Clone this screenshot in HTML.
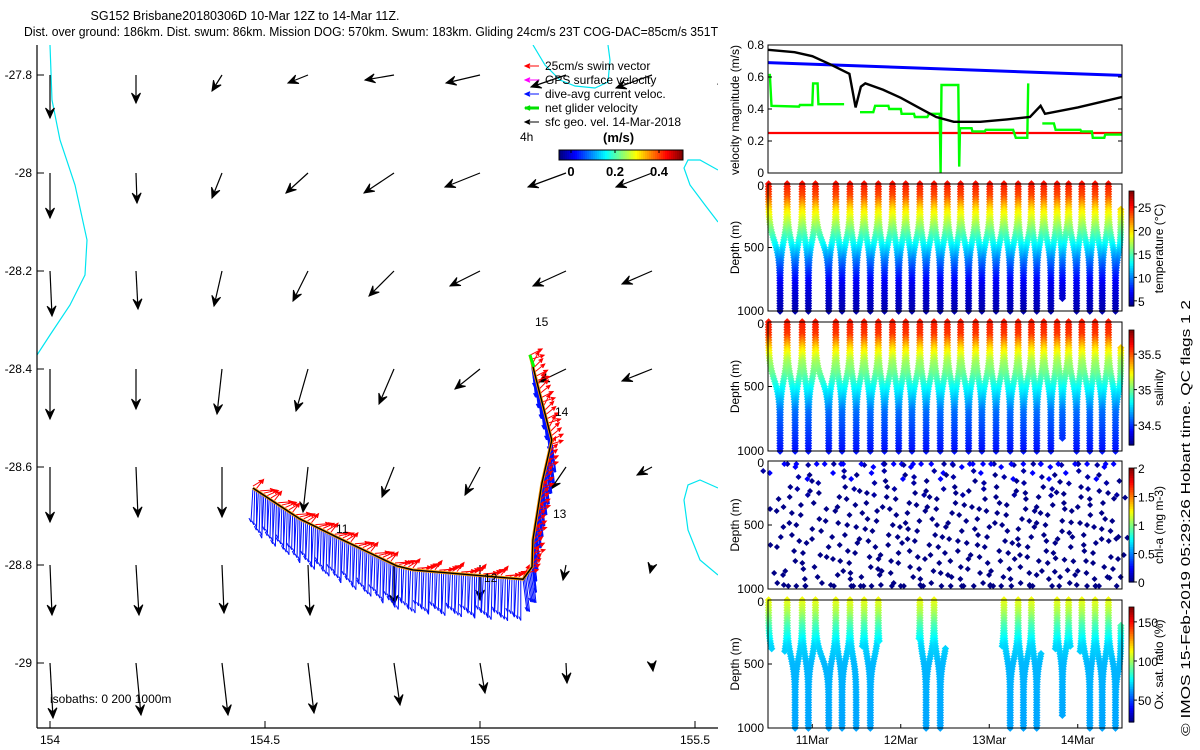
<!DOCTYPE html>
<html><head><meta charset="utf-8"><style>
html,body{margin:0;padding:0;background:#fff}
svg{display:block;font-family:"Liberation Sans",sans-serif}
</style></head><body>
<svg id="fig" width="1200" height="750" viewBox="0 0 1200 750" xmlns="http://www.w3.org/2000/svg">
<rect width="1200" height="750" fill="#fff"/>
<text x="245" y="20" font-size="12.5" text-anchor="middle">SG152 Brisbane20180306D 10-Mar 12Z to 14-Mar 11Z.</text>
<text x="24" y="36" font-size="12.5" textLength="694" lengthAdjust="spacingAndGlyphs">Dist. over ground: 186km. Dist. swum: 86km. Mission DOG: 570km. Swum: 183km. Gliding 24cm/s 23T COG-DAC=85cm/s 351T</text>
<g id="map"></g>
<g id="right"></g>
</svg>
<script>
// ---------- MAP DATA ----------
const gridLons=[154,154.2,154.4,154.6,154.8,155,155.2,155.4,155.6];
const gridLats=[-27.8,-28,-28.2,-28.4,-28.6,-28.8,-29];
// surface geostrophic velocity u,v (m/s) per row (lat) per column (lon)
const geoU=[
[0,0,-0.10,-0.20,-0.29,-0.34,-0.35,-0.36,-0.20],
[0,0.01,-0.10,-0.22,-0.30,-0.35,-0.38,-0.36,-0.18],
[0.02,0.02,-0.08,-0.15,-0.25,-0.30,-0.33,-0.30,-0.18],
[0,0,-0.05,-0.12,-0.15,-0.25,-0.27,-0.30,-0.18],
[0,0.02,0,-0.05,-0.12,-0.15,-0.15,-0.15,-0.10],
[0.02,0.03,0.02,0.02,0,0,-0.03,-0.02,0],
[0.03,0.05,0.06,0.06,0.06,0.05,0.01,0.01,0]];
const geoV=[
[-0.43,-0.28,-0.16,-0.08,-0.05,-0.08,-0.12,-0.13,-0.09],
[-0.45,-0.30,-0.25,-0.20,-0.20,-0.14,-0.14,-0.14,-0.08],
[-0.45,-0.38,-0.35,-0.30,-0.25,-0.15,-0.15,-0.13,-0.08],
[-0.50,-0.40,-0.45,-0.42,-0.35,-0.20,-0.13,-0.12,-0.08],
[-0.55,-0.50,-0.50,-0.45,-0.30,-0.28,-0.22,-0.08,-0.05],
[-0.50,-0.50,-0.48,-0.50,-0.40,-0.35,-0.15,-0.08,0],
[-0.55,-0.52,-0.52,-0.50,-0.42,-0.30,-0.20,-0.08,0]];
const trackLon=[154.472,154.581,154.667,154.807,154.844,155.100,155.121,155.123,155.144,155.167,155.116];
const trackLat=[-28.643,-28.706,-28.743,-28.802,-28.810,-28.829,-28.804,-28.749,-28.633,-28.545,-28.371];

// ---------- TIME SERIES DATA ----------
const blackT=[10.5,10.8,11.0,11.2,11.42,11.49,11.55,11.6,11.8,12.0,12.2,12.4,12.6,12.9,13.2,13.46,13.58,13.63,14.0,14.5];
const blackV=[0.77,0.755,0.73,0.68,0.62,0.41,0.54,0.56,0.52,0.47,0.41,0.35,0.32,0.32,0.335,0.35,0.42,0.37,0.41,0.475];
const blueT=[10.5,14.5];
const blueV=[0.69,0.61];
const redT=[10.5,14.5];
const redV=[0.25,0.25];
const greenT=[10.52,10.54,10.85,10.86,11.0,11.01,11.06,11.07,11.36,null,11.54,11.69,11.71,11.86,11.87,12.0,12.01,12.15,12.16,12.3,12.32,12.44,12.45,12.46,12.5,12.65,12.66,12.67,12.8,12.81,12.95,12.96,13.27,13.3,13.42,13.43,13.44,null,13.6,13.73,13.75,14.03,14.04,14.16,14.17,14.3,14.31,14.5];
const greenV=[0.62,0.42,0.415,0.425,0.425,0.56,0.56,0.43,0.43,null,0.38,0.38,0.42,0.42,0.40,0.40,0.37,0.37,0.35,0.35,0.37,0.37,0,0.55,0.55,0.55,0.04,0.28,0.28,0.26,0.26,0.27,0.27,0.22,0.22,0.22,0.56,null,0.31,0.31,0.27,0.27,0.26,0.26,0.22,0.22,0.24,0.24];
// dive zigzag turning points (time in days, depth m)
const turnT=[10.52,10.65,10.73,10.82,10.90,10.97,11.05,11.20,11.28,11.35,11.44,11.51,11.60,11.67,11.76,11.83,11.92,11.99,12.07,12.14,12.23,12.30,12.39,12.46,12.54,12.62,12.69,12.78,12.86,12.93,13.02,13.09,13.18,13.25,13.34,13.40,13.49,13.55,13.63,13.71,13.78,13.84,13.91,14.00,14.06,14.15,14.21,14.29,14.36,14.44,14.50];
const turnD=[0,1000,0,1000,0,1000,0,1000,0,1000,0,1000,0,1000,0,1000,0,1000,0,1000,0,1000,0,1000,0,1000,0,1000,0,1000,0,1000,0,1000,0,1000,0,1000,0,1000,0,900,0,1000,0,1000,0,1000,0,1000,200];
const tempDepth=[0,100,200,300,400,500,600,700,800,1000];
const tempVal=[25,23.5,20,17.5,15,12.5,10,8,6.5,5];
const salDepth=[0,100,200,300,400,500,700,1000];
const salVal=[35.6,35.55,35.3,35.1,35.0,34.85,34.6,34.45];
const chlDepth=[0,100,200,1000];
const chlVal=[0.25,0.08,0.02,0.01];
const oxyDepth=[0,100,200,350,500,1000];
const oxyVal=[112,102,88,72,67,64];
const oxyStart=[10.48,10.70,11.58,12.22,13.16,13.76,14.04];
const oxyEnd=[10.56,11.51,11.77,12.52,13.60,13.93,14.50];
const dayTicks=[11,12,13,14];
const dayTickLabels=["11Mar","12Mar","13Mar","14Mar"];

// ---------- helpers ----------
const NS="http://www.w3.org/2000/svg";
function el(tag,attrs,parent){const e=document.createElementNS(NS,tag);for(const k in attrs)e.setAttribute(k,attrs[k]);parent.appendChild(e);return e;}
function txt(s,attrs,parent){const e=el("text",attrs,parent);e.textContent=s;return e;}
function jet(v){v=Math.max(0,Math.min(1,v));const c=x=>Math.round(255*Math.max(0,Math.min(1,1.5-Math.abs(x))));return `rgb(${c(4*v-3)},${c(4*v-2)},${c(4*v-1)})`;}
function interp(xs,ys,x){if(x<=xs[0])return ys[0];for(let i=1;i<xs.length;i++)if(x<=xs[i])return ys[i-1]+(ys[i]-ys[i-1])*(x-xs[i-1])/(xs[i]-xs[i-1]);return ys[ys.length-1];}
function sig(g){const k=7,c=0.45;return (Math.tanh((g-c)*k)-Math.tanh(-c*k))/(Math.tanh((1-c)*k)-Math.tanh(-c*k));}

// ---------- MAP ----------
const map=document.getElementById("map");
const lonX=lon=>50+(lon-154)*430;
const latY=lat=>75+(-27.8-lat)*490;
const clip=el("clipPath",{id:"mapclip"},map);el("rect",{x:37,y:45,width:681,height:683},clip);
const mg=el("g",{"clip-path":"url(#mapclip)"},map);
const isos=[[[50,45],[52,100],[60,140],[75,185],[87,240],[85,275],[70,305],[50,335],[37,355]],
 [[533,45],[545,65],[560,80],[575,86],[595,88],[608,82],[610,60],[608,45]],
 [[718,170],[700,160],[688,160],[684,168],[690,185],[705,205],[718,222]],
 [[718,488],[700,480],[688,485],[684,500],[688,530],[700,560],[718,575]]];
isos.forEach(p=>{const l=el("polyline",{points:p.map(q=>q.join(",")).join(" "),fill:"none",stroke:"#00e5f0","stroke-width":1.2},mg);

});
function arrow(g,x,y,dx,dy,col,w,head){const L=Math.hypot(dx,dy);if(L<0.5)return;const ux=dx/L,uy=dy/L;const x2=x+dx,y2=y+dy;
 el("line",{x1:x,y1:y,x2:x2,y2:y2,stroke:col,"stroke-width":w},g);
 const hl=head,hw=head*0.45;
 el("polygon",{points:`${x2},${y2} ${x2-ux*hl-uy*hw},${y2-uy*hl+ux*hw} ${x2-ux*hl*0.6},${y2-uy*hl*0.6} ${x2-ux*hl+uy*hw},${y2-uy*hl-ux*hw}`,fill:col,stroke:col,"stroke-width":1},g);}
const ag=el("g",{},mg);


gridLats.forEach((la,r)=>gridLons.forEach((lo,c)=>{arrow(ag,lonX(lo),latY(la),geoU[r][c]*100,-geoV[r][c]*100,"#000",1.2,10);}));
const tp=trackLon.map((lo,i)=>[lonX(lo),latY(trackLat[i])]);
const samples=[];
for(let i=1;i<tp.length;i++){const [x0,y0]=tp[i-1],[x1,y1]=tp[i];const n=Math.max(1,Math.round(Math.hypot(x1-x0,y1-y0)/2.2));for(let k=0;k<n;k++){const f=k/n;samples.push([x0+(x1-x0)*f,y0+(y1-y0)*f,i]);}}
const bg=el("g",{},mg);


samples.forEach((s,j)=>{const vert=s[2]>=6;const len=vert?28+(j%5)*2:34+(j%7)*1.5;const dx=vert?4:-2+(j%3);
 el("line",{x1:s[0],y1:s[1],x2:s[0]+dx,y2:s[1]+len,stroke:"#0010ff","stroke-width":1},bg);
 el("line",{x1:s[0]+dx,y1:s[1]+len,x2:s[0]+dx-2,y2:s[1]+len-4,stroke:"#0010ff","stroke-width":1},bg);});
const rg=el("g",{},mg);


samples.forEach((s,j)=>{if(j%2)return;const vert=s[2]>=6;const pat=[[10,-6],[13,-3],[7,-9],[11,-5],[14,-1]][j%5];const d=vert?[pat[0]*0.9,pat[1]-3]:pat;
 arrow(rg,s[0],s[1]-2,d[0],d[1],"#ff0000",1,4);});
const tl1=el("polyline",{points:tp.map(p=>p.join(",")).join(" "),fill:"none",stroke:"#ff9900","stroke-width":3},mg);


const tl2=el("polyline",{points:tp.map(p=>p.join(",")).join(" "),fill:"none",stroke:"#000","stroke-width":1.4},mg);


const gl=el("polyline",{points:`${tp[10][0]},${tp[10][1]} ${tp[10][0]+4},${tp[10][1]+12}`,fill:"none",stroke:"#00ff00","stroke-width":3},mg);


[["11",336,533],["12",484,582],["13",553,518],["14",555,416],["15",535,326]].forEach(l=>{const t=txt(l[0],{x:l[1],y:l[2],"font-size":12},map);

});
el("line",{x1:37,y1:45,x2:37,y2:728,stroke:"#000","stroke-width":1.2},map);
el("line",{x1:37,y1:728,x2:718,y2:728,stroke:"#000","stroke-width":1.2},map);
const mapXT=[154,154.5,155,155.5];
mapXT.forEach(v=>{const x=lonX(v);el("line",{x1:x,y1:728,x2:x,y2:721,stroke:"#000"},map);const t=txt(String(v),{x:x,y:744,"font-size":12,"text-anchor":"middle"},map);

});
gridLats.forEach(v=>{const y=latY(v);el("line",{x1:37,y1:y,x2:44,y2:y,stroke:"#000"},map);const t=txt(String(v),{x:32,y:y+4,"font-size":12,"text-anchor":"end"},map);

});
const iso=txt("isobaths: 0   200  1000m",{x:50,y:703,"font-size":12,"xml:space":"preserve"},map);


const lg=el("g",{},map);


[["25cm/s swim vector","#ff0000",1],["GPS surface velocity","#ff00ff",1],["dive-avg current veloc.","#0010ff",1],["net glider velocity","#00e000",3],["sfc geo. vel. 14-Mar-2018","#000",1]].forEach((e,i)=>{const y=66+i*14;
 const g=el("g",{},lg);
 
 
 arrow(g,539,y,-14,0,e[1],e[2],5);txt(e[0],{x:545,y:y+4,"font-size":12},g);});
txt("4h",{x:520,y:141,"font-size":12},lg);
txt("(m/s)",{x:603,y:142,"font-size":13,"font-weight":"bold"},lg);
const cb=el("g",{},lg);


for(let i=0;i<62;i++)el("rect",{x:559+i*2,y:150,width:2.2,height:10,fill:jet(i/61)},cb);
el("rect",{x:559,y:150,width:124,height:10,fill:"none",stroke:"#000"},cb);
[["0",571],["0.2",615],["0.4",659]].forEach(l=>{el("line",{x1:l[1],y1:150,x2:l[1],y2:153,stroke:"#000"},cb);txt(l[0],{x:l[1],y:176,"font-size":13,"font-weight":"bold","text-anchor":"middle"},cb);});

// ---------- RIGHT PANELS ----------
const R=document.getElementById("right");
const L0=768,R0=1122;
const tX=t=>L0+(t-10.5)*88.5;
function frame(y0,y1,name){const r=el("rect",{x:L0,y:y0,width:R0-L0,height:y1-y0,fill:"none",stroke:"#000","stroke-width":1},R);

}
function vlabel(s,x,y,name,fs,len){const a={x:x,y:y,"font-size":fs||12,"text-anchor":"middle",transform:`rotate(-90 ${x} ${y})`};if(len){a.textLength=len;a.lengthAdjust="spacingAndGlyphs";}
const t=txt(s,a,R);

}
const vy=v=>173-v*160;
const vclip=el("clipPath",{id:"vclip"},R);el("rect",{x:L0,y:45,width:R0-L0,height:129},vclip);
const vg=el("g",{"clip-path":"url(#vclip)"},R);


function line(ts,vs,col,w,name){let d="",pen=false;ts.forEach((t,i)=>{if(t===null){pen=false;return;}d+=(pen?"L":"M")+tX(t).toFixed(1)+","+vy(vs[i]).toFixed(1);pen=true;});
 const p=el("path",{d:d,fill:"none",stroke:col,"stroke-width":w},vg);
 
 }
line(redT,redV,"#ff0000",2.2,"swim-speed-line");
line(blueT,blueV,"#0000ff",3,"current-speed-line");
line(greenT,greenV,"#00ff00",2.4,"glider-speed-line");
line(blackT,blackV,"#000",2.4,"surface-speed-line");
frame(45,173,"velocity-axes");
[0,0.2,0.4,0.6,0.8].forEach(v=>{const y=vy(v);el("line",{x1:L0,y1:y,x2:L0+4,y2:y,stroke:"#000"},R);el("line",{x1:R0,y1:y,x2:R0-4,y2:y,stroke:"#000"},R);
 const t=txt(String(v),{x:764,y:y+4,"font-size":12,"text-anchor":"end"},R);
 
 });
vlabel("velocity magnitude (m/s)",739,110,"velocity-axis-title");
const panels=[
 {y0:184,y1:311,name:"temperature",dep:tempDepth,val:tempVal,vmin:3.9,vmax:28.4,cb0:191,cb1:306,ticks:[5,10,15,20,25],lab:"temperature (°C)"},
 {y0:322,y1:451,name:"salinity",dep:salDepth,val:salVal,vmin:34.22,vmax:35.84,cb0:330,cb1:445,ticks:[34.5,35,35.5],lab:"salinity"},
 {y0:461,y1:589,name:"chlorophyll",dep:chlDepth,val:chlVal,vmin:0,vmax:2,cb0:468,cb1:582,ticks:[0,0.5,1,1.5,2],lab:"chl-a (mg m-3)",sparse:true},
 {y0:600,y1:728,name:"oxygen",dep:oxyDepth,val:oxyVal,vmin:22,vmax:169,cb0:607,cb1:722,ticks:[50,100,150],lab:"Ox. sat. ratio (%)",ranges:true}];
panels.forEach((P,pi)=>{
 const g=el("g",{},R);
 
 
 const dy=d=>P.y0+d/1000*(P.y1-P.y0);
 const step=P.sparse?125:20;
 for(let i=1;i<turnT.length;i++){const t0=turnT[i-1],t1=turnT[i],d0=turnD[i-1],d1=turnD[i];
  const sh=d0<d1?0:1;const ts=sh?t1:t0,tdp=sh?t0:t1,ds=Math.min(d0,d1),dd=Math.max(d0,d1);
  const n=Math.max(1,Math.round((dd-ds)/step));
  for(let k=0;k<=n;k++){const gf=k/n;const d=ds+(dd-ds)*gf;const t=ts+(tdp-ts)*(P.sparse?gf:sig(gf));
   if(P.ranges){let ok=false;oxyStart.forEach((s,j)=>{if(t>=s&&t<=oxyEnd[j])ok=true;});if(!ok)continue;}
   let x=tX(t),y=dy(d);if(P.sparse){x+=((i*7+k*3)%5-2)*4;y+=((i*5+k*11)%7-3)*6;y=Math.min(P.y1-3,Math.max(P.y0+3,y));}
   else{x+=((k*3)%3-1)*1.2;}
   const v=interp(P.dep,P.val,d);const c=jet((v-P.vmin)/(P.vmax-P.vmin));
   const s=P.sparse?2.3:3;
   el("path",{d:`M${x-s},${y}L${x},${y-s}L${x+s},${y}L${x},${y+s}Z`,fill:c,stroke:c,"stroke-width":1},g);}}
 frame(P.y0,P.y1,P.name+"-axes");
 [["0",0],["500",500],["1000",1000]].forEach(l=>{const y=dy(l[1]);el("line",{x1:L0,y1:y,x2:L0+4,y2:y,stroke:"#000"},R);
  const t=txt(l[0],{x:764,y:y+(l[1]===0?6:4),"font-size":12,"text-anchor":"end"},R);
  
  });
 vlabel("Depth (m)",739,(P.y0+P.y1)/2,"depth-axis-title");
 const cg=el("g",{},R);
 
 
 const H=P.cb1-P.cb0;for(let i=0;i<48;i++)el("rect",{x:1129,y:P.cb1-(i+1)*H/48,width:5,height:H/48+0.6,fill:jet((i+0.5)/48)},cg);
 el("rect",{x:1129,y:P.cb0,width:5,height:H,fill:"none",stroke:"#000","stroke-width":0.8},cg);
 P.ticks.forEach(v=>{const y=P.cb1-(v-P.vmin)/(P.vmax-P.vmin)*H;el("line",{x1:1134,y1:y,x2:1137,y2:y,stroke:"#000"},cg);txt(String(v),{x:1138,y:y+5,"font-size":12},cg);});
 vlabel(P.lab,1163,(P.cb0+P.cb1)/2,P.name+"-colorbar-title");
});
dayTicks.forEach((d,i)=>{const x=tX(d);el("line",{x1:x,y1:728,x2:x,y2:724,stroke:"#000"},R);
 const t=txt(dayTickLabels[i],{x:x,y:744,"font-size":12,"text-anchor":"middle"},R);
 
 });
vlabel("© IMOS 15-Feb-2019 05:29:26 Hobart time. QC flags 1  2",1190,518,"copyright-note",13,436);
</script>
</body></html>
